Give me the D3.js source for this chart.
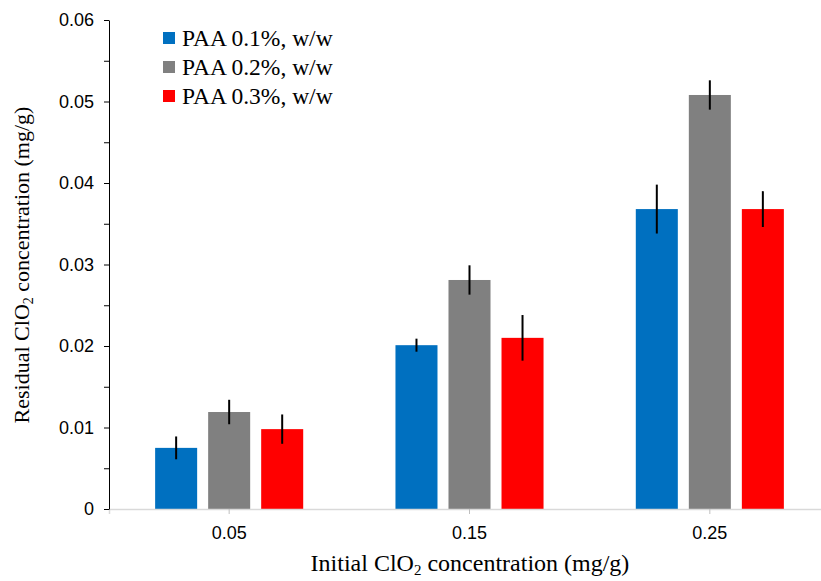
<!DOCTYPE html>
<html><head><meta charset="utf-8">
<script src="https://cdn.jsdelivr.net/npm/d3@7"></script>
<style>body{margin:0;background:#fff}svg{display:block}</style>
</head><body><svg id="c" width="821" height="581"></svg>
<script>
const categories = ["0.05", "0.15", "0.25"];
const seriesNames = ["PAA 0.1%, w/w", "PAA 0.2%, w/w", "PAA 0.3%, w/w"];
const paa01 = [0.0075, 0.0201, 0.0368];
const paa02 = [0.0119, 0.0281, 0.0508];
const paa03 = [0.0098, 0.0210, 0.0368];
const err01 = [0.0014, 0.0008, 0.0030];
const err02 = [0.0015, 0.0018, 0.0018];
const err03 = [0.0018, 0.0028, 0.0022];
const yTicks = [0, 0.01, 0.02, 0.03, 0.04, 0.05, 0.06];
const colors = ["#0070C0", "#808080", "#FF0000"];

const values = [paa01, paa02, paa03];
const errors = [err01, err02, err03];

const svg = d3.select("#c");
const L = 109, R = 830, T = 20, B = 509;
const x = d3.scaleBand().domain(categories).range([L, R]);
const xs = d3.scaleBand().domain(d3.range(3)).range([0, x.bandwidth()]).paddingInner(0.2075).paddingOuter(0.87);
const y = d3.scaleLinear().domain([0, 0.06]).range([B, T]);

// bars
categories.forEach((c, i) => {
  values.forEach((s, k) => {
    svg.append("rect")
      .attr("x", x(c) + xs(k)).attr("width", xs.bandwidth())
      .attr("y", y(s[i])).attr("height", y(0) - y(s[i]))
      .attr("fill", colors[k]);
    const cx = x(c) + xs(k) + xs.bandwidth() / 2;
    svg.append("line")
      .attr("x1", cx).attr("x2", cx)
      .attr("y1", y(s[i] + errors[k][i])).attr("y2", y(s[i] - errors[k][i]))
      .attr("stroke", "#000").attr("stroke-width", 2);
  });
});

const sans = "Arial, 'Liberation Sans', sans-serif";
// x axis
const xa = svg.append("g").attr("transform", `translate(0,${B})`)
  .call(d3.axisBottom(x).tickSize(5).tickPadding(12));
xa.select(".domain").attr("stroke", "#d9d9d9").attr("stroke-width", 1.5);
xa.selectAll(".tick line").attr("stroke", "#bfbfbf");
xa.selectAll("text").attr("font-family", sans).attr("font-size", 18).attr("fill", "#000");

// y axis with minor ticks
const minor = d3.range(0.005, 0.06, 0.01);
svg.append("g").attr("transform", `translate(${L},0)`)
  .call(d3.axisLeft(y).tickValues(minor).tickSize(5).tickFormat(""))
  .call(g => g.select(".domain").remove())
  .selectAll("line").attr("stroke", "#000");
const ya = svg.append("g").attr("transform", `translate(${L},0)`)
  .call(d3.axisLeft(y).tickValues(yTicks).tickSize(5).tickPadding(10)
    .tickFormat(d => d === 0 ? "0" : d3.format(".2f")(d)).tickSizeOuter(0));
ya.select(".domain").attr("stroke", "#000").attr("stroke-width", 1);
ya.selectAll(".tick line").attr("stroke", "#000");
ya.selectAll("text").attr("font-family", sans).attr("font-size", 18).attr("fill", "#000");

// axis titles
const serif = "'Liberation Serif', 'Times New Roman', serif";
const xt = svg.append("text").attr("x", 470).attr("y", 571).attr("text-anchor", "middle")
  .attr("font-family", serif).attr("font-size", 24);
xt.append("tspan").text("Initial ClO");
xt.append("tspan").text("2").attr("font-size", 15).attr("dy", 4);
xt.append("tspan").text(" concentration (mg/g)").attr("dy", -4);

const yt = svg.append("text").attr("transform", "translate(29,265) rotate(-90)").attr("text-anchor", "middle")
  .attr("font-family", serif).attr("font-size", 22);
yt.append("tspan").text("Residual ClO");
yt.append("tspan").text("2").attr("font-size", 14).attr("dy", 4);
yt.append("tspan").text(" concentration (mg/g)").attr("dy", -4);

// legend
seriesNames.forEach((n, k) => {
  const gy = 38 + k * 29;
  svg.append("rect").attr("x", 163).attr("y", gy - 6).attr("width", 12).attr("height", 12).attr("fill", colors[k]);
  svg.append("text").attr("x", 182).attr("y", gy + 8).text(n)
    .attr("font-family", serif).attr("font-size", 23.5).attr("fill", "#000");
});
</script></body></html>
